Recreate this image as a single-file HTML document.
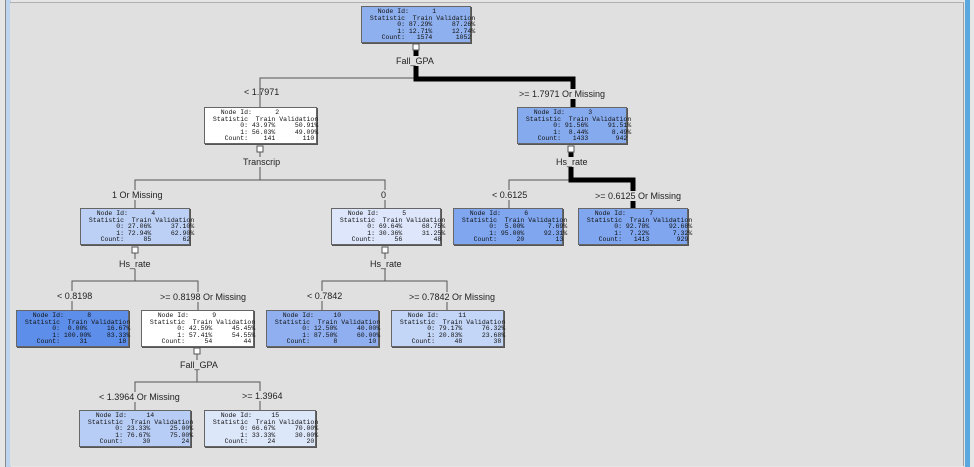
<!DOCTYPE html>
<html><head><meta charset="utf-8"><style>
body{margin:0;width:974px;height:467px;background:#e6e6e6;position:relative;overflow:hidden;font-family:"Liberation Sans",sans-serif}
#panel{position:absolute;left:10px;top:2px;width:953px;height:463px;background:#e0e0e0;border-top:1px solid #b0b0b0;border-right:1px solid #a0a0a0}
#lbar{position:absolute;left:5px;top:0;width:5px;height:467px;background:#bcd4ee;border-left:1px solid #888}
#rbar{position:absolute;left:965px;top:0;width:5px;height:467px;background:#5aa8e0}
.n{position:absolute;width:110px;height:37px;border:1px solid #666;box-shadow:1px 1px 0 #555;font-family:"Liberation Mono",monospace;font-size:6.5px;line-height:6.6px;color:#111;white-space:pre;box-sizing:border-box;padding:2px 0 0 4px}
.l{position:absolute;font-size:9px;color:#222;white-space:nowrap}
</style></head><body>
<div id="lbar"></div><div id="panel"></div><div id="rbar"></div>
<svg width="974" height="467" style="position:absolute;left:0;top:0">
<g stroke="#555" stroke-width="1" fill="none">
<path d="M416 44V78H260V107"/>
<path d="M260 146V180H135V208"/><path d="M260 180H385V208"/>
<path d="M571 180H509V208"/>
<path d="M135 247V281H72V310"/><path d="M135 281H198V310"/>
<path d="M385 247V281H322V310"/><path d="M385 281H447V310"/>
<path d="M197 348V382H135V410"/><path d="M197 382H260V410"/>
</g>
<g stroke="#000" stroke-width="5" fill="none">
<path d="M416 50V79H573V107"/>
<path d="M571 152V180H633V208"/>
</g>
<g fill="#fff" stroke="#555">
<rect x="413" y="44" width="6" height="6"/><rect x="257" y="146" width="6" height="6"/>
<rect x="568" y="146" width="6" height="6"/><rect x="132" y="247" width="6" height="6"/>
<rect x="382" y="247" width="6" height="6"/><rect x="194" y="348" width="6" height="6"/>
</g>
</svg>
<div class="l" style="left:396px;top:56px;background:#e0e0e0">Fall_GPA</div>
<div class="l" style="left:244px;top:87px">&lt; 1.7971</div>
<div class="l" style="left:519px;top:89px;background:#e0e0e0">&gt;= 1.7971 Or Missing</div>
<div class="l" style="left:243px;top:157px;background:#e0e0e0">Transcrip</div>
<div class="l" style="left:556px;top:157px;background:#e0e0e0">Hs_rate</div>
<div class="l" style="left:112px;top:190px;background:#e0e0e0">1 Or Missing</div>
<div class="l" style="left:381px;top:190px;background:#e0e0e0">0</div>
<div class="l" style="left:492px;top:190px;background:#e0e0e0">&lt; 0.6125</div>
<div class="l" style="left:595px;top:191px;background:#e0e0e0">&gt;= 0.6125 Or Missing</div>
<div class="l" style="left:119px;top:259px;background:#e0e0e0">Hs_rate</div>
<div class="l" style="left:370px;top:259px;background:#e0e0e0">Hs_rate</div>
<div class="l" style="left:57px;top:291px;background:#e0e0e0">&lt; 0.8198</div>
<div class="l" style="left:160px;top:292px;background:#e0e0e0">&gt;= 0.8198 Or Missing</div>
<div class="l" style="left:307px;top:291px;background:#e0e0e0">&lt; 0.7842</div>
<div class="l" style="left:409px;top:292px;background:#e0e0e0">&gt;= 0.7842 Or Missing</div>
<div class="l" style="left:180px;top:360px;background:#e0e0e0">Fall_GPA</div>
<div class="l" style="left:99px;top:392px;background:#e0e0e0">&lt; 1.3964 Or Missing</div>
<div class="l" style="left:242px;top:391px;background:#e0e0e0">&gt;= 1.3964</div>

<div class="n" style="left:361px;top:6px;background:#8fb0ee">   Node Id:      1
 Statistic  Train Validation
        0: 87.29%     87.26%
        1: 12.71%     12.74%
    Count:   1574      1052</div>
<div class="n" style="left:204px;top:107px;width:113px;background:#fff">   Node Id:      2
 Statistic  Train Validation
        0: 43.97%     50.91%
        1: 56.03%     49.09%
    Count:    141       110</div>
<div class="n" style="left:517px;top:107px;background:#86aaee">   Node Id:      3
 Statistic  Train Validation
        0: 91.56%     91.51%
        1:  8.44%      8.49%
    Count:   1433       942</div>
<div class="n" style="left:80px;top:208px;background:#bcd0f5">   Node Id:      4
 Statistic  Train Validation
        0: 27.06%     37.10%
        1: 72.94%     62.90%
    Count:     85        62</div>
<div class="n" style="left:331px;top:208px;background:#dde6fa">   Node Id:      5
 Statistic  Train Validation
        0: 69.64%     68.75%
        1: 30.36%     31.25%
    Count:     56        48</div>
<div class="n" style="left:453px;top:208px;background:#7fa6ee">   Node Id:      6
 Statistic  Train Validation
        0:  5.00%      7.69%
        1: 95.00%     92.31%
    Count:     20        13</div>
<div class="n" style="left:578px;top:208px;background:#7fa6ee">   Node Id:      7
 Statistic  Train Validation
        0: 92.78%     92.68%
        1:  7.22%      7.32%
    Count:   1413       929</div>
<div class="n" style="left:16px;top:310px;width:113px;background:#5d8fea">   Node Id:      8
 Statistic  Train Validation
        0:  0.00%     16.67%
        1: 100.00%    83.33%
    Count:     31        18</div>
<div class="n" style="left:141px;top:310px;width:113px;background:#fff">   Node Id:      9
 Statistic  Train Validation
        0: 42.59%     45.45%
        1: 57.41%     54.55%
    Count:     54        44</div>
<div class="n" style="left:266px;top:310px;width:113px;background:#8faff0">   Node Id:     10
 Statistic  Train Validation
        0: 12.50%     40.00%
        1: 87.50%     60.00%
    Count:      8        10</div>
<div class="n" style="left:391px;top:310px;width:113px;background:#c4d6f7">   Node Id:     11
 Statistic  Train Validation
        0: 79.17%     76.32%
        1: 20.83%     23.68%
    Count:     48        38</div>
<div class="n" style="left:79px;top:410px;width:112px;background:#b8cdf5">   Node Id:     14
 Statistic  Train Validation
        0: 23.33%     25.00%
        1: 76.67%     75.00%
    Count:     30        24</div>
<div class="n" style="left:204px;top:410px;width:112px;background:#dde7fa">   Node Id:     15
 Statistic  Train Validation
        0: 66.67%     70.00%
        1: 33.33%     30.00%
    Count:     24        20</div>
</body></html>
